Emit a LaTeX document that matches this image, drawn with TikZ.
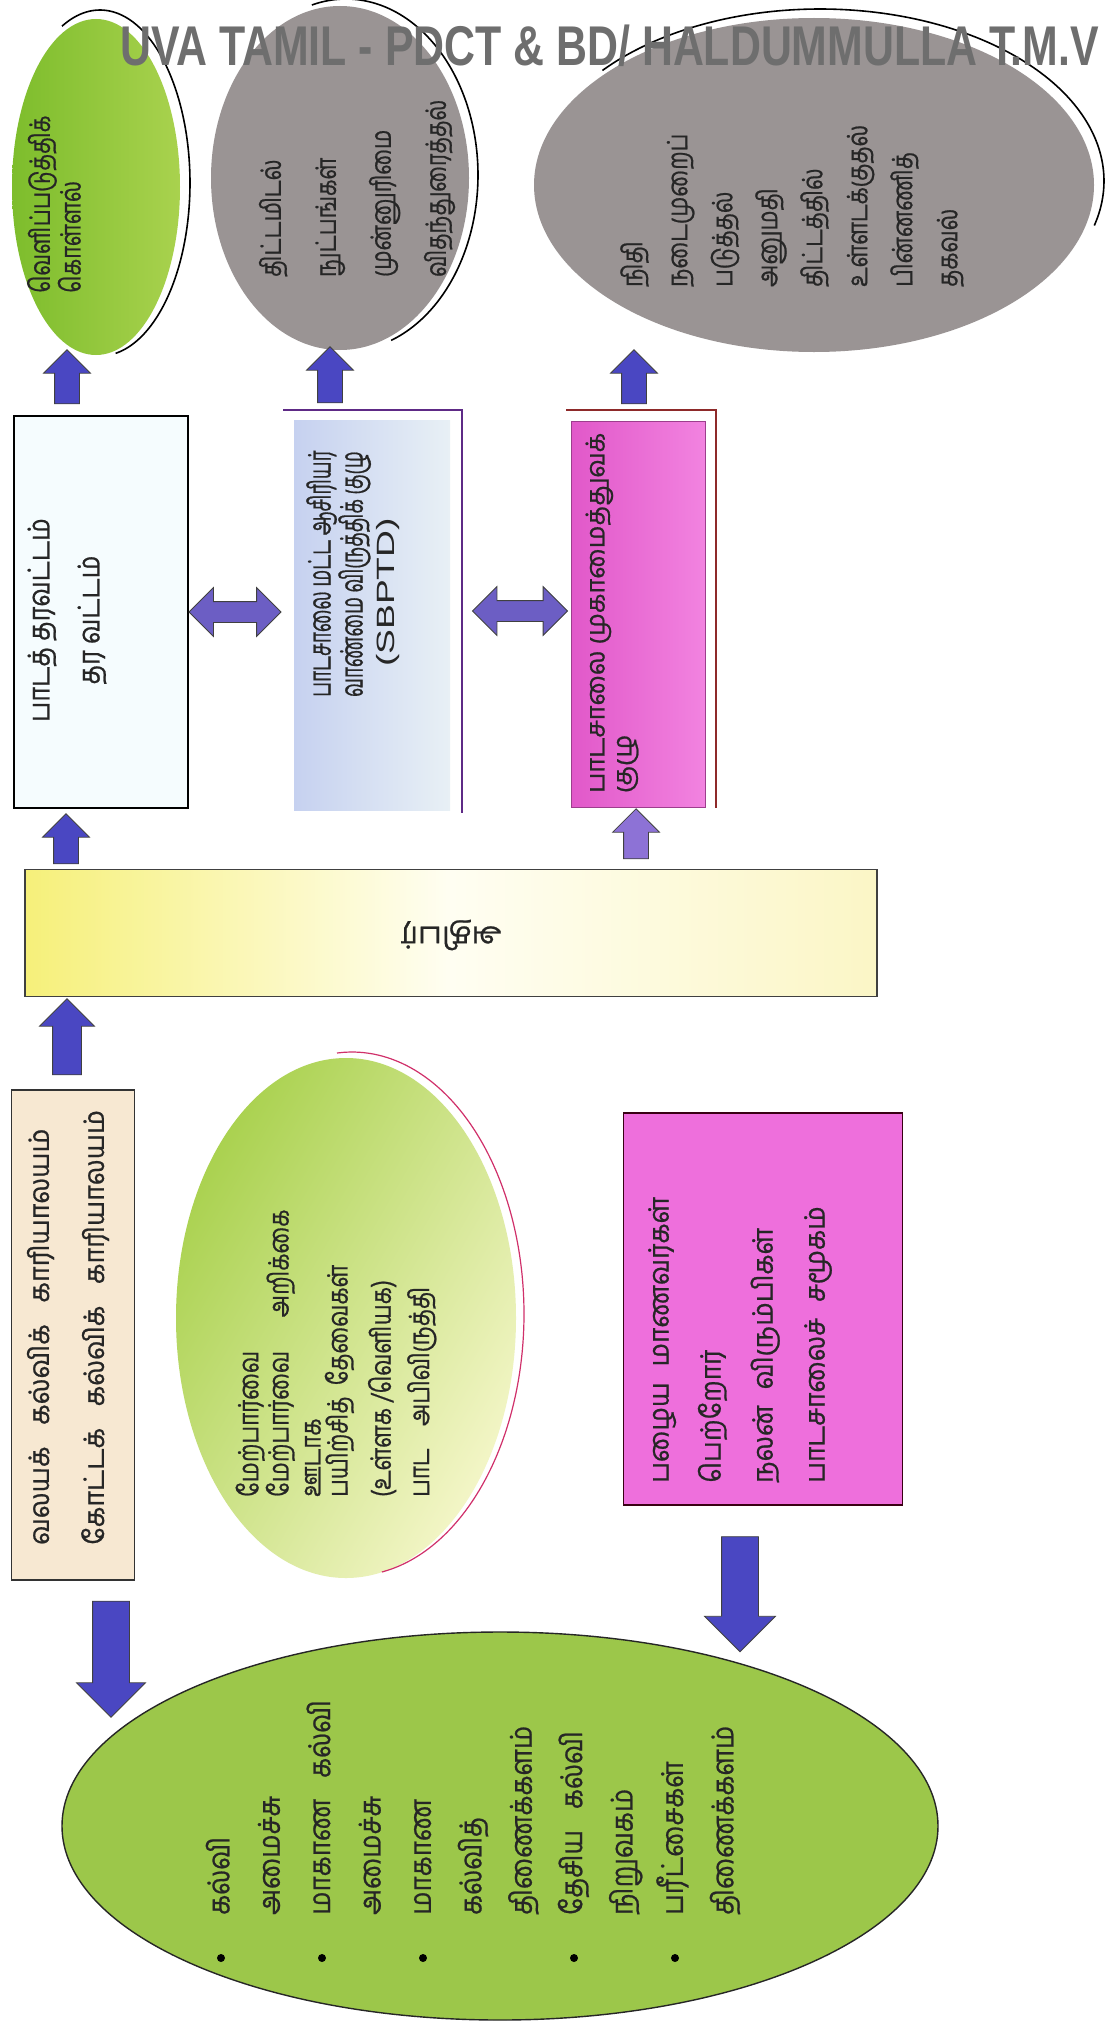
\documentclass[tikz,border=0pt]{standalone}
\usepackage{graphicx}
\usepackage{fontspec}
\newfontfamily\tamil[Script=Tamil, FakeBold=0.8]{Hind Madurai}
\newfontfamily\wmfont{Liberation Sans}
\usetikzlibrary{shapes.geometric,shapes.arrows,calc}
\definecolor{gA}{HTML}{7DBD2C}
\definecolor{gB}{HTML}{A9D24E}
\definecolor{grayE}{HTML}{9A9494}
\definecolor{bxA}{HTML}{C6D1F0}
\definecolor{bxB}{HTML}{E8F0F5}
\definecolor{mgA}{HTML}{E158C9}
\definecolor{mgB}{HTML}{F283E0}
\definecolor{frP}{HTML}{5E2A86}
\definecolor{frR}{HTML}{8E2A2A}
\definecolor{ylA}{HTML}{F6F07A}
\definecolor{ylB}{HTML}{FFFEF2}
\definecolor{ylC}{HTML}{FBF6C6}
\definecolor{cream}{HTML}{F7E8D2}
\definecolor{lgA}{HTML}{A9D14E}
\definecolor{lgB}{HTML}{F4F6C8}
\definecolor{pinkB}{HTML}{EE6FDC}
\definecolor{bigG}{HTML}{9CC74A}
\definecolor{ablue}{HTML}{4A47C2}
\definecolor{apurple}{HTML}{8D72D6}
\definecolor{dblue}{HTML}{6C5EC4}
\definecolor{wmgray}{HTML}{6E6E6E}
\definecolor{redarc}{HTML}{D0306A}
\newcommand\tmf[2]{\tamil\fontsize{#1}{#2}\selectfont}
\begin{document}
\begin{tikzpicture}[x=1pt,y=-1pt,
  ell/.style={ellipse, inner sep=0pt, outer sep=0pt},
  tx/.style={rotate=90, anchor=west, align=left, inner sep=0pt, text=black!85},
  upA/.style={single arrow, rotate=90, draw=black!75, line width=0.8pt, fill=ablue,
    inner xsep=0pt, inner ysep=12pt, single arrow head extend=11pt,
    single arrow tip angle=90, minimum height=#1},
  dnA/.style={single arrow, rotate=-90, draw=black!75, line width=0.8pt, fill=ablue,
    inner xsep=0pt, inner ysep=18pt, single arrow head extend=16pt,
    single arrow tip angle=90, minimum height=#1},
  dbA/.style={double arrow, draw=black!75, line width=0.8pt, fill=dblue,
    inner xsep=0pt, inner ysep=10pt, double arrow head extend=14pt,
    double arrow tip angle=90, minimum height=#1},
  bul/.style={circle, fill=black, inner sep=0pt, minimum size=8pt}]
\useasboundingbox[fill=white] (0,0) rectangle (1105,2039);

% ---------- top ellipses ----------
\node[ell, minimum width=168pt, minimum height=336pt, left color=gA, right color=gB] (e1) at (96,187) {};
\draw[black, line width=1.6pt] plot[domain=-115:80, samples=60, smooth] ({100+90*cos(\x)},{183+173*sin(\x)});
\node[ell, minimum width=258pt, minimum height=344pt, fill=grayE] (e2) at (340,178) {};
\draw[black, line width=1.6pt] plot[domain=-105:70, samples=60, smooth] ({346+132*cos(\x)},{175+176*sin(\x)});
\node[ell, minimum width=560pt, minimum height=334pt, fill=grayE] (e3) at (814,185) {};
\draw[black, line width=1.6pt] plot[domain=-140:15, samples=60, smooth] ({820+284*cos(\x)},{181+172*sin(\x)});

% ---------- middle row boxes ----------
\node[draw=black, line width=1.5pt, fill=white!96!cyan, minimum width=174pt, minimum height=392pt, inner sep=0pt] (b1) at (101,612) {};
\node[left color=bxA, right color=bxB, minimum width=156pt, minimum height=390pt, inner sep=0pt] (b2) at (372,615) {};
\draw[frP, line width=1.4pt] (283,410) -- (462,410) -- (462,813);
\node[left color=mgA, right color=mgB, draw=mgA!70!black, line width=0.5pt, minimum width=134pt, minimum height=386pt, inner sep=0pt] (b3) at (638,614) {};
\draw[frR, line width=1.4pt] (566,410) -- (716,410) -- (716,808);

% ---------- yellow box ----------
\node[draw=black!75, line width=1.5pt, left color=ylA, right color=ylC, middle color=ylB, minimum width=852pt, minimum height=127pt, inner sep=0pt] (yb) at (451,933) {};

% ---------- lower row ----------
\node[draw=black!80, line width=1.5pt, fill=cream, minimum width=123pt, minimum height=490pt, inner sep=0pt] (b4) at (73,1335) {};
\node[ell, minimum width=340pt, minimum height=520pt, left color=lgA, right color=lgB, shading angle=60] (e4) at (346,1318) {};
\draw[redarc, line width=1.2pt] plot[domain=-95:80, samples=60, smooth] ({352+172*cos(\x)},{1314+262*sin(\x)});
\node[draw=black!70!purple, line width=1.5pt, fill=pinkB, minimum width=279pt, minimum height=392pt, inner sep=0pt] (pb) at (763,1309) {};

% ---------- big ellipse ----------
\node[ell, draw=black!85, line width=1.4pt, fill=bigG, minimum width=876pt, minimum height=388pt] (e5) at (500,1826) {};

% ---------- arrows ----------
\node[upA=54pt] (a1) at (67,383) {};
\node[upA=56pt] (a2) at (330,381) {};
\node[upA=54pt] (a3) at (634,383) {};
\node[upA=50pt] (a4) at (66,845) {};
\node[upA=50pt, fill=apurple] (a5) at (636,840) {};
\node[upA=76pt, inner ysep=14pt, single arrow head extend=13pt] (a6) at (67,1044) {};
\node[dnA=116pt] (a7) at (111,1650) {};
\node[dnA=115pt, single arrow head extend=17pt] (a8) at (740,1585) {};
\node[dbA=92pt] (d1) at (235,612) {};
\node[dbA=95pt] (d2) at (520,611) {};

% ---------- texts ----------
\node[tx, xscale=0.78, font=\tmf{28}{27}] (t1) at (54,293) {வெளிப்படுத்திக்\\கொள்ளல்};
\node[tx, xscale=0.77, font=\tmf{28}{55}] (t2) at (357,277) {திட்டமிடல்\\நுட்பங்கள்\\முன்னுரிமை\\விதந்துரைத்தல்};
\node[tx, xscale=0.8, font=\tmf{28}{45}] (t3) at (792,287) {நிதி\\நடைமுறைப்\\படுத்தல்\\அனுமதி\\திட்டத்தில்\\உள்ளடக்குதல்\\பின்னணித்\\தகவல்};
\node[tx, anchor=center, align=center, xscale=0.85, font=\tmf{30}{50}] (t4) at (67,620) {பாடத் தரவட்டம்\\தர வட்டம்};
\node[tx, xscale=0.61, font=\tmf{31}{32}] (t5) at (353,697) {பாடசாலை மட்ட ஆசிரியர்\\வாண்மை விருத்திக் குழு\\\hspace*{49pt}{\wmfont\fontsize{25}{32}\selectfont\scalebox{2.44}[1]{(SBPTD)}}};
\node[tx, xscale=0.98, font=\tmf{26}{27}] (t6) at (612,793) {பாடசாலை முகாமைத்துவக்\\குழு};
\node[rotate=180, inner sep=0pt, font=\tmf{30}{30}, text=black!85] (t7) at (451,935) {அதிபர்};
\node[tx, xscale=0.96, font=\tmf{28}{55}] (t8) at (68,1545) {வலயக்\hspace{0.8em}கல்விக்\hspace{0.8em}காரியாலயம்\\கோட்டக்\hspace{0.8em}கல்விக்\hspace{0.8em}காரியாலயம்};
\node[tx, xscale=0.8, font=\tmf{28}{27}] (t9) at (336,1497) {மேற்பார்வை\\மேற்பார்வை\hspace{1.5em}அறிக்கை\\[5pt]ஊடாக\\பயிற்சித்\hspace{0.5em}தேவைகள்\\[13pt](உள்ளக /வெளியக)\\[10pt]பாட\hspace{1em}அபிவிருத்தி};
\node[tx, xscale=0.94, font=\tmf{28}{52}] (t10) at (740,1483) {பழைய\hspace{0.6em}மாணவர்கள்\\பெற்றோர்\\நலன்\hspace{0.6em}விரும்பிகள்\\பாடசாலைச்\hspace{0.6em}சமூகம்};
\node[tx, xscale=0.87, font=\tmf{30}{50.4}] (t11) at (473,1915) {கல்வி\\அமைச்சு\\மாகாண\hspace{0.8em}கல்வி\\அமைச்சு\\மாகாண\\கல்வித்\\திணைக்களம்\\தேசிய\hspace{0.8em}கல்வி\\நிறுவகம்\\பரீட்சைகள்\\திணைக்களம்};
\node[bul] (u1) at (221,1958) {};
\node[bul] (u2) at (322,1958) {};
\node[bul] (u3) at (423,1958) {};
\node[bul] (u4) at (574,1958) {};
\node[bul] (u5) at (675,1958) {};

% ---------- watermark ----------
\node[anchor=west, inner sep=0pt, xscale=0.765, text=wmgray, font=\wmfont\bfseries\fontsize{56}{56}\selectfont] (wm) at (120,46) {UVA TAMIL - PDCT \& BD/ HALDUMMULLA T.M.V};
\end{tikzpicture}
\end{document}
